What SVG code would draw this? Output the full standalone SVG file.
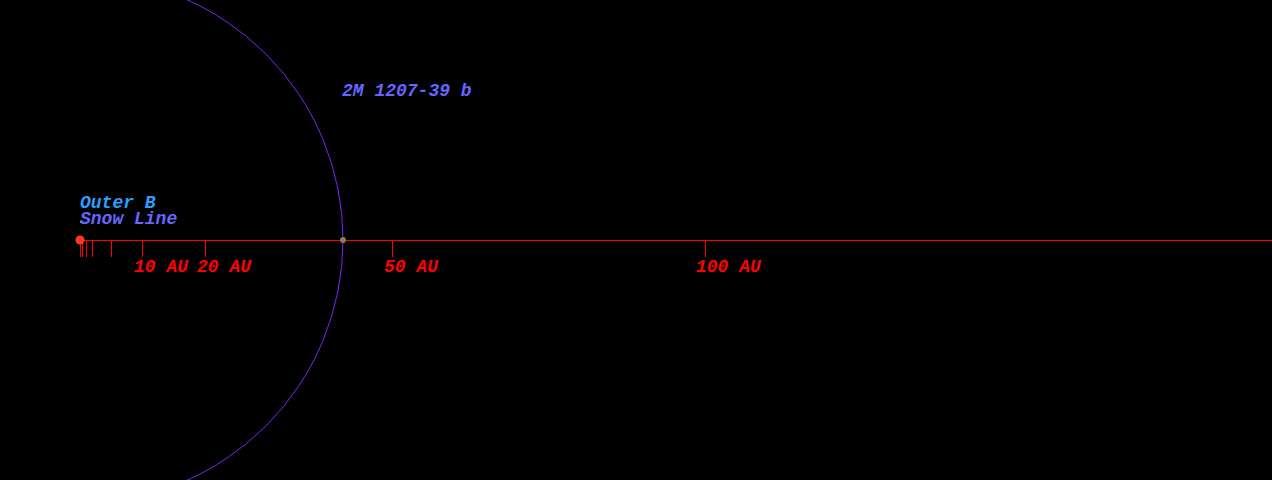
<svg xmlns="http://www.w3.org/2000/svg" width="1272" height="480" viewBox="0 0 1272 480">
<style>
text{font-family:"Liberation Mono","Courier New",monospace;font-style:italic;font-weight:bold;font-size:18px}
.ax{fill:#ff0000}
.tk{stroke:#ff0000;stroke-width:1}
</style>
<rect width="1272" height="480" fill="#000"/>
<g id="orbit"><circle cx="80" cy="240" r="263" fill="none" stroke="#8020ff" stroke-width="1"/></g>
<g id="connectors">
<line class="tk" x1="80" y1="240.5" x2="1272" y2="240.5"/>
<line class="tk" x1="80.5" y1="240" x2="80.5" y2="257"/>
<line class="tk" x1="82.5" y1="240" x2="82.5" y2="257"/>
<line class="tk" x1="86.5" y1="240" x2="86.5" y2="257"/>
<line class="tk" x1="92.5" y1="240" x2="92.5" y2="257"/>
<line class="tk" x1="111.5" y1="240" x2="111.5" y2="257"/>
<line class="tk" x1="142.5" y1="240" x2="142.5" y2="257"/>
<line class="tk" x1="205.5" y1="240" x2="205.5" y2="257"/>
<line class="tk" x1="392.5" y1="240" x2="392.5" y2="257"/>
<line class="tk" x1="705.5" y1="240" x2="705.5" y2="257"/>
</g>
<g id="star"><circle cx="80" cy="240" r="4.5" fill="#ff3a1a"/></g>
<g id="planet"><circle cx="343" cy="240" r="3" fill="#8a8040"/></g>
<g id="labels">
<text x="80" y="208" fill="#2aa0ff">Outer B</text>
<text x="80" y="224" fill="#6666ff">Snow Line</text>
<rect x="80" y="221" width="1" height="2" fill="#33cc33"/>
<text x="342" y="96" fill="#6666ff">2M 1207-39 b</text>
<text class="ax" x="134" y="272">10 AU</text>
<text class="ax" x="197" y="272">20 AU</text>
<text class="ax" x="384" y="272">50 AU</text>
<text class="ax" x="696" y="272">100 AU</text>
</g>
</svg>
